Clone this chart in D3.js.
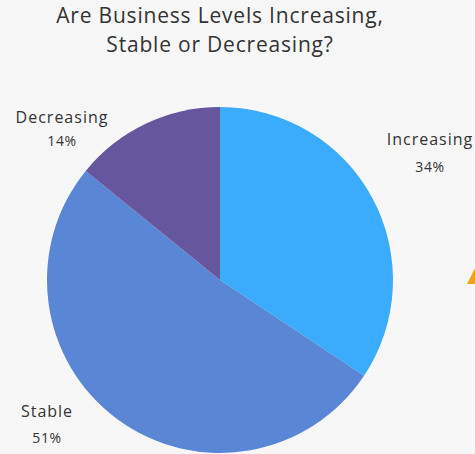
<!DOCTYPE html>
<html>
<head>
<meta charset="utf-8">
<script src="https://cdn.jsdelivr.net/npm/d3@7"></script>
<style>
  html, body { margin: 0; padding: 0; background: #f7f7f7; }
  svg { display: block; }
  text { font-family: "Open Sans", "Lato", sans-serif; fill: #333; }
</style>
</head>
<body>
<svg id="chart" width="475" height="454"></svg>
<script>
const titleLines = ["Are Business Levels Increasing,", "Stable or Decreasing?"];
const categories = ["Increasing", "Stable", "Decreasing"];
const values = [34, 51, 14];
const colors = ["#3aacfb", "#5a86d6", "#66569e"];
const labelPos = [[430, 145, 172], [47, 417, 443], [62, 123, 146]];

const svg = d3.select("#chart");
svg.append("rect").attr("width", 475).attr("height", 454).attr("fill", "#f7f7f7");

const title = svg.append("text")
  .attr("text-anchor", "middle")
  .attr("font-size", 21)
  .style("letter-spacing", "0.8px");
titleLines.forEach((t, i) => {
  title.append("tspan").attr("x", 220).attr("y", 23 + i * 29).text(t);
});

const cx = 220, cy = 280, r = 173;
const pie = d3.pie().sort(null).value(d => d)(values);
const arc = d3.arc().innerRadius(0).outerRadius(r);
const color = d3.scaleOrdinal().domain(categories).range(colors);

const g = svg.append("g").attr("transform", `translate(${cx},${cy})`);
g.selectAll("path").data(pie).join("path")
  .attr("d", arc)
  .attr("fill", (d, i) => color(categories[i]));

const lab = svg.selectAll("text.lab").data(categories).join("text")
  .attr("class", "lab")
  .attr("text-anchor", "middle")
  .attr("font-size", 16)
  .style("letter-spacing", "1px");
lab.append("tspan").attr("x", (d, i) => labelPos[i][0]).attr("y", (d, i) => labelPos[i][1]).text(d => d);
lab.append("tspan").attr("x", (d, i) => labelPos[i][0]).attr("y", (d, i) => labelPos[i][2])
  .attr("font-size", 14).style("letter-spacing", "0.6px").text((d, i) => values[i] + "%");

// orange arrow fragment at right edge
svg.append("path").attr("d", "M467,284 L475,268 L475,284 Z").attr("fill", "#f3a21b");
</script>
</body>
</html>
